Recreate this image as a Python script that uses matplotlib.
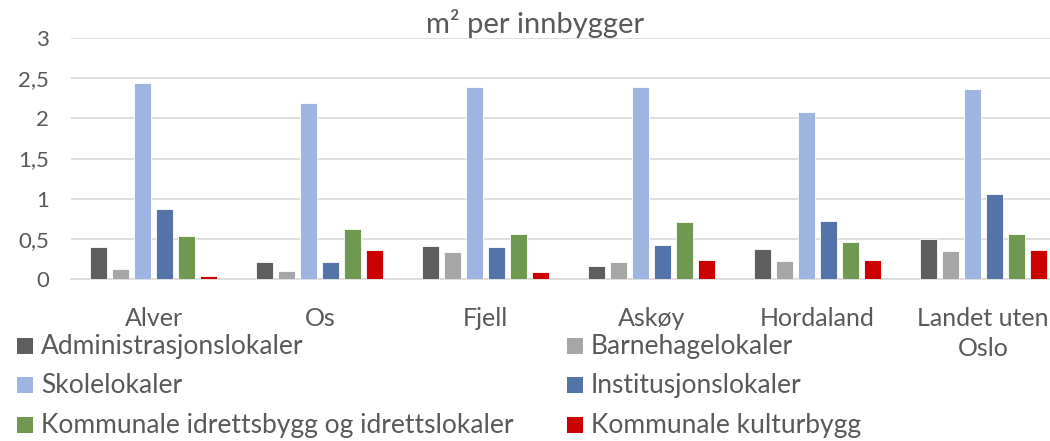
import matplotlib
matplotlib.use("Agg")
import matplotlib.pyplot as plt
from matplotlib.patches import Rectangle
import numpy as np

categories = ["Alver", "Os", "Fjell", "Askøy", "Hordaland", "Landet uten\nOslo"]
series_names = [
    "Administrasjonslokaler",
    "Barnehagelokaler",
    "Skolelokaler",
    "Institusjonslokaler",
    "Kommunale idrettsbygg og idrettslokaler",
    "Kommunale kulturbygg",
]
administrasjon = [0.40, 0.21, 0.41, 0.165, 0.375, 0.495]
barnehage = [0.12, 0.10, 0.33, 0.21, 0.23, 0.345]
skole = [2.44, 2.185, 2.39, 2.395, 2.08, 2.36]
institusjon = [0.87, 0.21, 0.40, 0.42, 0.72, 1.06]
idrett = [0.53, 0.62, 0.555, 0.705, 0.46, 0.56]
kultur = [0.04, 0.36, 0.09, 0.235, 0.24, 0.36]
series_values = [administrasjon, barnehage, skole, institusjon, idrett, kultur]
colors = ["#5e5e5e", "#a6a6a6", "#9fb5e1", "#5373a9", "#6f9850", "#cc0000"]
yticks = [0, 0.5, 1, 1.5, 2, 2.5, 3]
ytick_labels = ["0", "0,5", "1", "1,5", "2", "2,5", "3"]

plt.rcParams["font.family"] = ["Lato", "DejaVu Sans"]
text_color = "#595959"
W, H = 1050, 441

fig = plt.figure(figsize=(W / 100, H / 100), dpi=100)
# plot area runs a little past the right edge of the canvas
ax = fig.add_axes([71 / W, 1 - 279 / H, 995 / W, (279 - 38) / H])

x = np.arange(len(categories))
step = 0.1326
width = 0.1025
for i, (name, vals, col) in enumerate(zip(series_names, series_values, colors)):
    offs = (i - 2.5) * step
    ax.bar(x + offs, vals, width=width, color=col, edgecolor="white",
           linewidth=0.6, zorder=3, label=name)

ax.set_xlim(-0.5, len(categories) - 0.5)
ax.set_ylim(0, 3)
ax.set_yticks(yticks)
ax.set_yticklabels(ytick_labels)
ax.set_xticks(x)
ax.set_xticklabels(categories, linespacing=1.4)
ax.tick_params(axis="x", length=0, labelsize=18, colors=text_color, pad=20)
ax.tick_params(axis="y", length=0, labelsize=16, colors=text_color, pad=16)
ax.grid(axis="y", color="#d9d9d9", linewidth=1.2, zorder=0)
for s in ["top", "right", "left"]:
    ax.spines[s].set_visible(False)
ax.spines["bottom"].set_color("#d9d9d9")
ax.spines["bottom"].set_linewidth(1.2)

fig.text(535 / W, 1 - 33 / H, "m² per innbygger", ha="center", va="baseline",
         fontsize=21, color=text_color)

# legend laid out in two columns, row by row
col_x = [17, 567]
row_y = [346, 385, 425]
for i, (name, col) in enumerate(zip(series_names, colors)):
    cx = col_x[i % 2]
    cy = row_y[i // 2]
    fig.patches.append(Rectangle((cx / W, 1 - (cy + 8) / H), 16 / W, 16 / H,
                                 transform=fig.transFigure, facecolor=col,
                                 edgecolor="none"))
    fig.text((cx + 24) / W, 1 - (cy + 8) / H, name, ha="left", va="baseline",
             fontsize=19, color=text_color)

fig.savefig("out.png", dpi=100)
